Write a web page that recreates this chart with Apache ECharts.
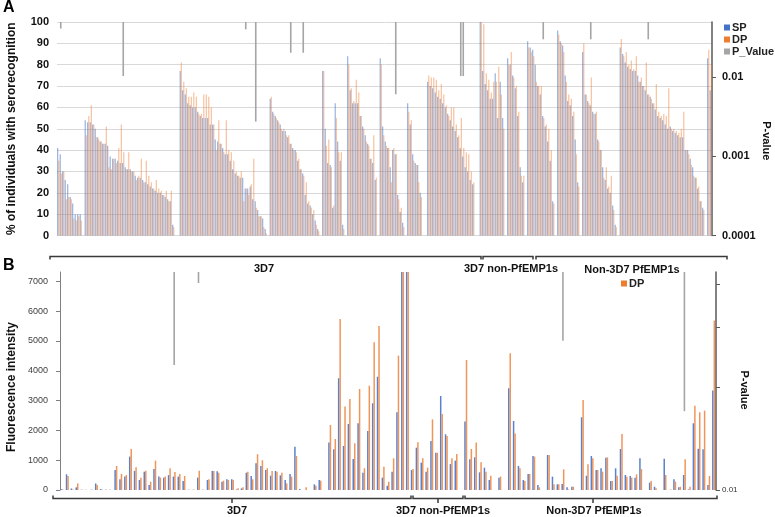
<!DOCTYPE html>
<html><head><meta charset="utf-8">
<script src="https://cdn.jsdelivr.net/npm/echarts@6/dist/echarts.min.js"></script>
<style>html,body{margin:0;padding:0;background:#fff}#c{width:775px;height:517px}</style>
</head><body><div id="c"></div>
<script>
// ---------- Panel A: % of individuals with serorecognition (null = gap) ----------
const spA = [
41,38,30,26,24,18,15,10,10,10, null,
54,53,53,52,50,46,44,43,43,42,37,36,36,35,34,34,32,31,31,30,28,27,27,26,25,24,23,22,21,20,20,19,18,17,16,5, null,null,
77,68,66,62,61,60,60,58,56,55,55,55,52,52,45,44,43,41,38,38,35,31,29,28,27,27,22,22,23,17,16,12,9,8,3, null,
64,58,56,54,52,49,49,46,43,41,40,35,31,29,19,15,14,10,7,3, null,
77,50,34,33,13,62,44,35,5, null,
84,68,62,62,62,56,51,47,43,36,34,26, null,
83,51,44,41,32,40,38,19,11,6, null,
62,52,38,34,33,20, null,null,
72,70,69,67,65,64,62,60,57,54,51,49,46,41,37,32,30,26,24, null,null,
100,77,71,68,64,64,76,55,72,55, null,
83,80,75,69,56,32,25, null,
91,88,87,80,70,66,56,51,44,35,16, null,
96,91,89,75,63,61,56,45,25, null,
86,66,63,61,58,57,45,40,32,26,22,20,14,5, null,
88,85,81,79,78,77,77,75,72,70,68,66,65,62,59,56,55,54,52,50,51,49,48,47,46,46,40,40,36,32,27,22,16,13, null,
83,68
];
const dpA = [
35,29,30,17,18,17,8,7,9,7, null,
47,56,61,52,46,45,44,43,51,32,31,36,34,41,52,39,31,39,30,30,26,28,36,25,35,28,25,22,26,22,21,19,21,16,21,4, null,null,
81,72,69,65,65,67,65,57,57,66,66,65,60,52,40,54,43,39,54,40,39,35,30,28,30,16,22,19,24,36,13,9,9,4,1, null,
65,57,55,53,50,50,47,47,43,40,39,36,31,28,25,16,13,12,5,2, null,
77,42,45,32,14,55,39,39,3, null,
80,69,63,73,67,56,50,44,42,36,47,27, null,
80,47,42,41,25,41,38,17,13,4, null,
58,54,35,33,25,18, null,null,
75,74,74,73,68,71,66,61,56,60,60,52,47,55,41,39,38,30,25, null,null,
100,99,76,73,67,72,72,79,66,50, null,
80,86,74,70,58,28,28, null,
88,86,84,72,70,70,55,52,50,40,15, null,
94,90,86,72,66,64,58,38,23, null,
90,66,62,74,57,58,44,40,27,32,23,28,12,4, null,
92,84,86,80,82,78,84,72,74,70,81,66,64,62,71,58,56,57,56,69,50,50,49,48,50,58,40,38,33,28,27,23,16,12, null,
87,80
];
// [category index, P-value]
const pA = [[1,0.041],[26,0.0103],[75,0.040],[79,0.00274],[93,0.0203],[98,0.0203],[135,0.00607],[161,0.0103],[162,0.0103],[194,0.030],[213,0.030],[236,0.030]];
const pTicksA = [0.0001, 0.001, 0.01];

// ---------- Panel B: fluorescence intensity ----------
const spB = [
30,526,50,90,10,10,10,220,30,10,
10,670,360,450,1120,640,335,615,170,705,
450,415,500,450,450,300,10,10,415,10,
335,640,625,280,360,360,20,55,580,470,
900,805,670,480,640,490,335,540,1455,30,
0,0,190,335,0,1590,1365,3750,1477,2215,
1040,2240,580,1980,2910,3800,415,145,615,2607,
8000,8000,670,1420,918,615,1645,1250,3155,1870,
870,985,0,2295,1030,1097,593,750,335,0,
415,0,3413,2316,805,335,537,1141,168,0,
1175,448,190,200,90,110,0,2440,480,1141,
671,727,1085,302,727,1376,503,470,414,1063,
0,246,110,0,1052,0,358,90,503,20,
2238,1387,1365,168,3335
];
const dpB = [
10,470,20,220,10,0,10,170,20,10,
0,805,540,500,1376,760,415,650,280,985,
415,450,730,605,540,470,10,10,650,10,
360,640,580,313,335,335,55,90,615,360,
1200,1000,730,640,615,580,220,450,1140,0,
90,0,145,313,0,2180,1710,5740,2800,3055,
1567,3390,730,3500,4960,5505,780,280,1063,4510,
8000,8000,705,1600,1063,750,2370,1250,2550,1810,
1063,1210,0,4365,1376,1590,930,615,480,0,
450,0,4588,1900,727,302,537,1119,90,0,
1175,190,190,694,20,110,0,3020,860,1063,
671,615,1097,302,481,1880,448,414,526,705,
0,302,55,0,503,20,280,110,1030,110,
2830,2607,2663,470,5685
];
const pB = [[23,0.0232],[28,0.0403],[103,0.0273],[128,0.017]];
const yTicksB = [0,1000,2000,3000,4000,5000,6000,7000];
const pTicksB = [0.01,0.02,0.03,0.04];
const pLabelsB = [0.01];

const catsA = spA.map((_, i) => String(i));
const catsB = spB.map((_, i) => String(i));
const FF = "'Liberation Sans', Arial, sans-serif";

function pFmt(v){ const e = Math.round(Math.log10(v)); return v.toFixed(Math.max(0, -e)); }
function pLine(params, api){
  const p = api.coord([api.value(0), api.value(1)]);
  const top = params.coordSys.y;
  return {type:'line', shape:{x1:p[0], y1:top, x2:p[0], y2:p[1]}, style:{stroke:'#A5A5A5', lineWidth:1.6}};
}

const chart = echarts.init(document.getElementById('c'));
const dark = '#3a3a3a';
function seg(points){ return {type:'polyline', shape:{points}, style:{stroke:dark, lineWidth:1.5, fill:null}, silent:true}; }
function lbl(x, y, t){ return {type:'text', x, y, style:{text:t, x:0, y:0, font:'bold 11px '+FF, fill:'#111', textAlign:'center', align:'center', verticalAlign:'middle', textVerticalAlign:'middle'}}; }

chart.setOption({
  animation:false,
  textStyle:{fontFamily:FF},
  grid:[{left:57, top:22, width:655, height:213.5, containLabel:false, outerBoundsMode:'none'},
        {left:60, top:272, width:656, height:218, containLabel:false, outerBoundsMode:'none'}],
  legend:[
    {data:['SP','DP','P_Value'], orient:'vertical', left:719, top:17, itemWidth:6, itemHeight:6, itemGap:1, icon:'rect',
     textStyle:{fontWeight:'bold', fontSize:11, color:'#222', padding:[0,0,0,-3]}, itemStyle:{opacity:1}},
    {data:['DP'], left:616, top:273, itemWidth:6, itemHeight:6, icon:'rect',
     textStyle:{fontWeight:'bold', fontSize:11, color:'#222', padding:[0,0,0,-3]}, itemStyle:{opacity:1}}
  ],
  xAxis:[
    {gridIndex:0, type:'category', data:catsA, show:false},
    {gridIndex:1, type:'category', data:catsB, show:false}
  ],
  yAxis:[
    {gridIndex:0, type:'value', min:0, max:100, interval:10, position:'left',
     axisLine:{show:false}, axisTick:{show:false},
     axisLabel:{fontWeight:'bold', fontSize:11, color:'#111', margin:8},
     splitLine:{lineStyle:{color:'#D9D9D9'}},
     name:'% of individuals with serorecognition', nameLocation:'middle', nameGap:39, nameRotate:90, nameMoveOverlap:false,
     nameTextStyle:{fontWeight:'bold', fontSize:12, color:'#111'}},
    {gridIndex:0, type:'log', logBase:10, min:0.0001, max:0.0496, position:'right',
     axisLine:{show:true, lineStyle:{color:'#595959', width:1.5}},
     axisTick:{show:true, length:4, customValues:pTicksA, lineStyle:{color:'#595959'}},
     axisLabel:{customValues:pTicksA, formatter:pFmt, fontWeight:'bold', fontSize:11, color:'#111', margin:10},
     splitLine:{show:false}, minorTick:{show:false},
     name:'P-value', nameLocation:'middle', nameGap:49, nameRotate:-90, nameMoveOverlap:false,
     nameTextStyle:{fontWeight:'bold', fontSize:11, color:'#111', padding:[0,0,0,24]}},
    {gridIndex:1, type:'value', min:0, max:7315, position:'left',
     axisLine:{show:true, lineStyle:{color:'#808080'}},
     axisTick:{show:true, length:4, customValues:yTicksB, lineStyle:{color:'#808080'}},
     axisLabel:{customValues:yTicksB, formatter:v => String(Math.round(v)), fontSize:9, color:'#404040', margin:12},
     splitLine:{show:false},
     name:'Fluorescence intensity', nameLocation:'middle', nameGap:42, nameRotate:90, nameMoveOverlap:false,
     nameTextStyle:{fontWeight:'bold', fontSize:12, color:'#111', padding:[0,12,0,0]}},
    {gridIndex:1, type:'log', logBase:10, min:0.01, max:0.0434, position:'right',
     axisLine:{show:true, lineStyle:{color:'#595959', width:1.5}},
     axisTick:{show:true, length:4, customValues:pTicksB, lineStyle:{color:'#595959'}},
     axisLabel:{customValues:pLabelsB, formatter:pFmt, fontSize:8, color:'#333', margin:6},
     splitLine:{show:false},
     name:'P-value', nameLocation:'middle', nameGap:23, nameRotate:-90, nameMoveOverlap:false,
     nameTextStyle:{fontWeight:'bold', fontSize:11, color:'#111', padding:[0,0,0,18]}}
  ],
  series:[
    {type:'bar', name:'SP', xAxisIndex:0, yAxisIndex:0, data:spA, barWidth:1.1, barGap:'0%',
     itemStyle:{color:'#4472C4', opacity:0.6}},
    {type:'bar', name:'DP', xAxisIndex:0, yAxisIndex:0, data:dpA, barWidth:1.1, barGap:'0%',
     itemStyle:{color:'#ED7D31', opacity:0.52}},
    {type:'custom', name:'P_Value', xAxisIndex:0, yAxisIndex:1, data:pA, renderItem:pLine, itemStyle:{color:'#A5A5A5'}},
    {type:'bar', name:'SP', xAxisIndex:1, yAxisIndex:2, data:spB, barWidth:1.5, barGap:'0%',
     itemStyle:{color:'#5B80CC'}},
    {type:'bar', name:'DP', xAxisIndex:1, yAxisIndex:2, data:dpB, barWidth:1.5, barGap:'0%',
     itemStyle:{color:'#EF955A'}},
    {type:'custom', name:'P_Value', xAxisIndex:1, yAxisIndex:3, data:pB, renderItem:pLine, itemStyle:{color:'#A5A5A5'}}
  ],
  graphic:[
    {type:'text', left:3, top:0, style:{text:'A', font:'bold 16px '+FF, fill:'#000'}},
    {type:'text', left:3, top:258, style:{text:'B', font:'bold 16px '+FF, fill:'#000'}},
    seg([[50,259.5],[50,256.5],[481,256.5],[481,259.5]]),
    seg([[483,259.5],[483,256.5],[533,256.5],[533,259.5]]),
    seg([[536,259.5],[536,256.5],[727,256.5],[727,259.5]]),
    lbl(264, 268.5, '3D7'), lbl(511, 268.5, '3D7 non-PfEMP1s'), lbl(632, 269.5, 'Non-3D7 PfEMP1s'),
    seg([[53,495.5],[53,498.5],[411,498.5],[411,495.5]]),
    seg([[413,495.5],[413,498.5],[463,498.5],[463,495.5]]),
    seg([[465,495.5],[465,498.5],[717,498.5],[717,495.5]]),
    seg([[232,498.5],[232,503]]), seg([[438,498.5],[438,503]]), seg([[593,498.5],[593,503]]),
    lbl(237, 511, '3D7'), lbl(443, 510.5, '3D7 non-PfEMP1s'), lbl(594, 511, 'Non-3D7 PfEMP1s')
  ]
});
</script></body></html>
